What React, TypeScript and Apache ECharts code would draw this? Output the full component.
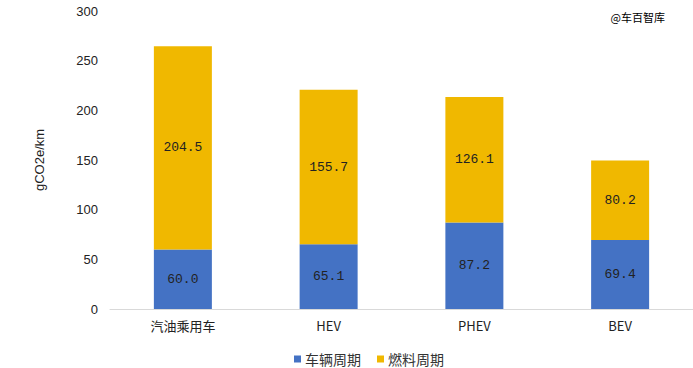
import React, { useEffect, useRef } from "react";
import * as echarts from "echarts";

const categories = ["汽油乘用车", "HEV", "PHEV", "BEV"];
const vehicleCycle = [60.0, 65.1, 87.2, 69.4];
const fuelCycle = [204.5, 155.7, 126.1, 80.2];
const seriesNames = ["车辆周期", "燃料周期"];
const yTicks = { min: 0, max: 300, interval: 50 };

const labelFont = "'Liberation Mono', 'Noto Sans CJK SC', monospace";

export default function App() {
  const ref = useRef<HTMLDivElement>(null);
  useEffect(() => {
    const chart = echarts.init(ref.current!, null, { renderer: "svg" });
    chart.setOption({
      animation: false,
      backgroundColor: "#fff",
      grid: { left: 110, right: 0, top: 11, bottom: 59 },
      graphic: [
        {
          type: "text",
          right: 28,
          top: 11,
          style: { text: "@车百智库", font: "11px 'Noto Sans CJK SC'", fill: "#000" },
        },
      ],
      legend: {
        top: 346,
        left: 289,
        itemWidth: 7,
        itemHeight: 7,
        itemGap: 16,
        icon: "rect",
        padding: 5,
        textStyle: { fontFamily: "'Noto Sans CJK SC'", fontSize: 14, lineHeight: 16, color: "#333", padding: [0, 0, 0, -1] },
        data: seriesNames,
      },
      xAxis: {
        type: "category",
        data: categories,
        axisLine: { lineStyle: { color: "#d9d9d9" } },
        axisTick: { show: false },
        axisLabel: { color: "#222", fontSize: 13, fontFamily: "'Noto Sans CJK SC'", margin: 10 },
      },
      yAxis: {
        type: "value",
        min: yTicks.min,
        max: yTicks.max,
        interval: yTicks.interval,
        name: "gCO2e/km",
        nameLocation: "middle",
        nameGap: 64,
        nameRotate: 90,
        nameTextStyle: { color: "#222", fontSize: 13, fontFamily: "'Liberation Sans', Arial" },
        splitLine: { show: false },
        axisLine: { show: false },
        axisTick: { show: false },
        axisLabel: { color: "#222", fontSize: 13, fontFamily: "'Liberation Sans', Arial", margin: 12 },
      },
      series: [
        {
          name: seriesNames[0],
          type: "bar",
          stack: "total",
          data: vehicleCycle,
          barWidth: 58,
          itemStyle: { color: "#4472C4" },
          label: {
            show: true,
            position: "inside",
            color: "#222",
            fontSize: 13,
            fontFamily: labelFont,
            formatter: (p: any) => p.value.toFixed(1),
          },
        },
        {
          name: seriesNames[1],
          type: "bar",
          stack: "total",
          data: fuelCycle,
          barWidth: 58,
          itemStyle: { color: "#F0B800" },
          label: {
            show: true,
            position: "inside",
            color: "#222",
            fontSize: 13,
            fontFamily: labelFont,
            formatter: (p: any) => p.value.toFixed(1),
          },
        },
      ],
    });
    return () => chart.dispose();
  }, []);
  return <div ref={ref} style={{ width: 693, height: 368, position: "absolute", left: 0, top: 0 }} />;
}
